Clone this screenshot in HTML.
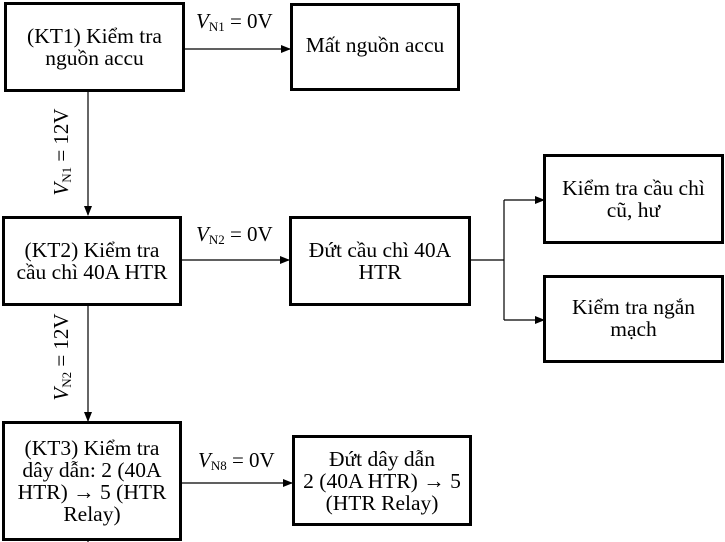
<!DOCTYPE html>
<html><head><meta charset="utf-8"><style>
body{margin:0;width:725px;height:542px;background:#fff;position:relative;overflow:hidden;font-family:"Liberation Serif",serif;}
.b{position:absolute;box-sizing:border-box;border:3px solid #000;display:flex;align-items:center;justify-content:center;text-align:center;font-size:21.5px;line-height:22px;color:#000;}
.l{position:absolute;font-size:21px;white-space:nowrap;}
.l i{font-style:italic}
.l sub{font-size:13px;vertical-align:-3px}
</style></head><body>
<svg width="725" height="542" style="position:absolute;left:0;top:0">
<defs><marker id="a" markerWidth="10" markerHeight="10" refX="9" refY="5" orient="auto" markerUnits="userSpaceOnUse"><path d="M0,1 L10,5 L0,9z" fill="#000"/></marker></defs>
<g stroke="#000" stroke-width="1.2" fill="none">
<line x1="184" y1="49" x2="290" y2="49" marker-end="url(#a)"/>
<line x1="88" y1="90" x2="88" y2="215" marker-end="url(#a)"/>
<line x1="181" y1="260" x2="289" y2="260" marker-end="url(#a)"/>
<line x1="88" y1="305" x2="88" y2="421" marker-end="url(#a)"/>
<line x1="181" y1="483" x2="292" y2="483" marker-end="url(#a)"/>
<line x1="470" y1="260" x2="504" y2="260"/>
<line x1="504" y1="200" x2="504" y2="320"/>
<line x1="504" y1="200" x2="544" y2="200" marker-end="url(#a)"/>
<line x1="504" y1="320" x2="544" y2="320" marker-end="url(#a)"/>
<line x1="88" y1="538" x2="88" y2="542"/>
</g></svg>
<div class="b" style="left:4px;top:2px;width:181px;height:90px">(KT1) Kiểm tra<br>nguồn accu</div>
<div class="b" style="left:290px;top:3px;width:170px;height:88px;align-items:flex-start;padding-top:28px">Mất nguồn accu</div>
<div class="b" style="left:2px;top:216px;width:180px;height:90px">(KT2) Kiểm tra<br>cầu chì 40A HTR</div>
<div class="b" style="left:289px;top:216px;width:182px;height:90px;align-items:flex-start;padding-top:20px">Đứt cầu chì 40A<br>HTR</div>
<div class="b" style="left:543px;top:154px;width:181px;height:90px;align-items:flex-start;padding-top:20px">Kiểm tra cầu chì<br>cũ, hư</div>
<div class="b" style="left:543px;top:275px;width:181px;height:88px;align-items:flex-start;padding-top:18px">Kiểm tra ngắn<br>mạch</div>
<div class="b" style="left:2px;top:421px;width:180px;height:120px">(KT3) Kiểm tra<br>dây dẫn: 2 (40A<br>HTR) → 5 (HTR<br>Relay)</div>
<div class="b" style="left:292px;top:435px;width:180px;height:91px">Đứt dây dẫn<br>2 (40A HTR) → 5<br>(HTR Relay)</div>
<div class="l" style="left:196px;top:9px"><i>V</i><sub>N1</sub> = 0V</div>
<div class="l" style="left:196px;top:222px"><i>V</i><sub>N2</sub> = 0V</div>
<div class="l" style="left:198px;top:448px"><i>V</i><sub>N8</sub> = 0V</div>
<div class="l" style="left:14px;top:139px;transform:rotate(-90deg);transform-origin:center;width:96px;text-align:center"><i>V</i><sub>N1</sub> = 12V</div>
<div class="l" style="left:14px;top:344px;transform:rotate(-90deg);transform-origin:center;width:96px;text-align:center"><i>V</i><sub>N2</sub> = 12V</div>
</body></html>
